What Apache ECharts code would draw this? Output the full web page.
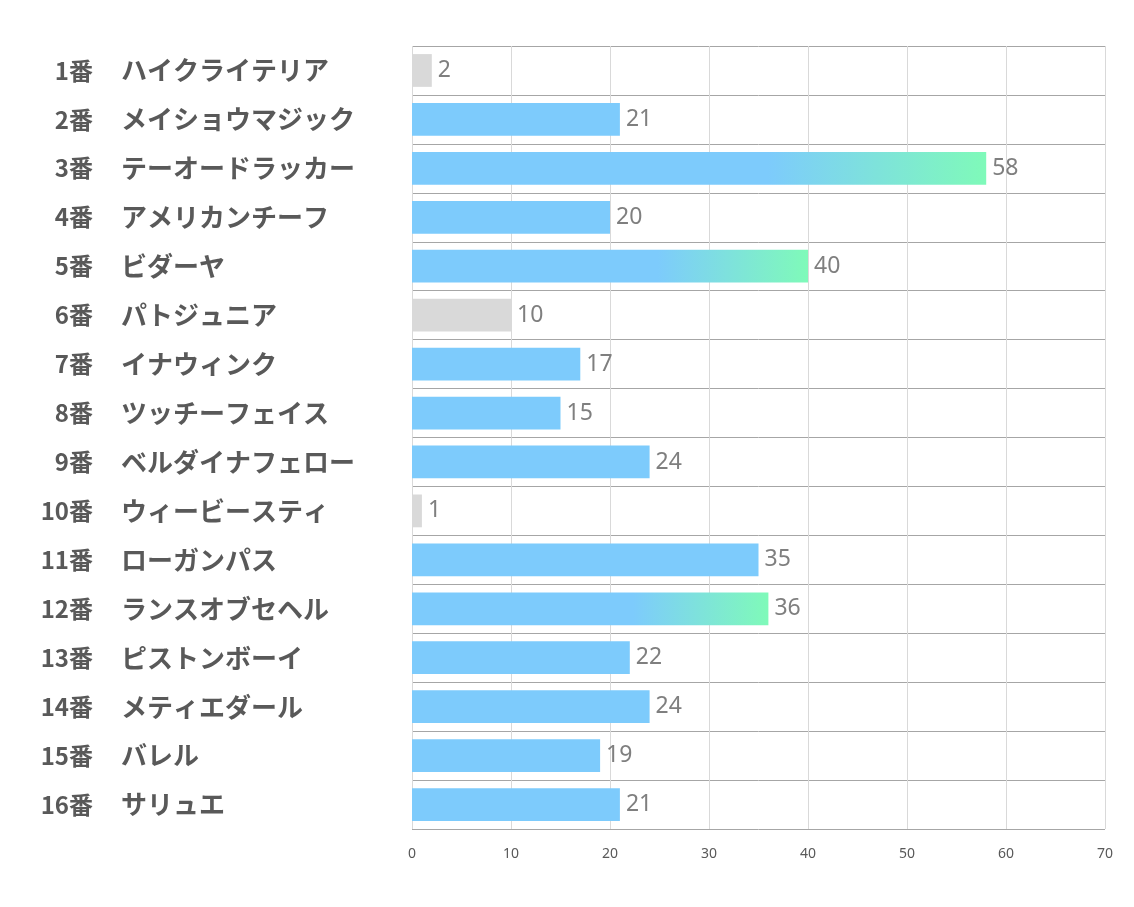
<!DOCTYPE html>
<html><head><meta charset="utf-8">
<script src="https://cdn.jsdelivr.net/npm/echarts@6/dist/echarts.min.js"></script>
<style>html,body{margin:0;padding:0;background:#fff}#c{width:1134px;height:907px}</style>
</head><body><div id="c"></div>
<script>
const numbers = ['1番','2番','3番','4番','5番','6番','7番','8番','9番','10番','11番','12番','13番','14番','15番','16番'];
const horses = ['ハイクライテリア','メイショウマジック','テーオードラッカー','アメリカンチーフ','ビダーヤ','パトジュニア','イナウィンク','ツッチーフェイス','ベルダイナフェロー','ウィービースティ','ローガンパス','ランスオブセヘル','ピストンボーイ','メティエダール','バレル','サリュエ'];
const values = [2,21,58,20,40,10,17,15,24,1,35,36,22,24,19,21];
const xTicks = [0,10,20,30,40,50,60,70];

const BLUE = '#7dcbfc', GRAY = '#d9d9d9', GREEN = '#7ffab9';
const top3 = values.slice().sort((a,b)=>b-a).slice(0,3);
const barData = values.map(v=>{
  let color = BLUE;
  if (v <= 10) color = GRAY;
  else if (top3.includes(v)) color = new echarts.graphic.LinearGradient(0,0,1,0,[
    {offset:0,color:BLUE},{offset:0.62,color:BLUE},{offset:1,color:GREEN}]);
  return {value:v,itemStyle:{color}};
});

const labelFont = {fontWeight:'bold',color:'#595959',fontFamily:'Noto Sans CJK JP'};
const chart = echarts.init(document.getElementById('c'));
chart.setOption({
  animation:false,
  backgroundColor:'#fff',
  grid:{left:412,right:29,top:46,bottom:78,containLabel:false},
  xAxis:{type:'value',min:0,max:70,interval:10,
    axisLine:{show:false},axisTick:{show:false},
    axisLabel:{color:'#595959',fontSize:14,margin:18,fontFamily:'Noto Sans',
      formatter:v=>xTicks.includes(v)?String(v):''},
    splitLine:{show:true,lineStyle:{color:'#d9d9d9',width:1}}},
  yAxis:[
    {type:'category',inverse:true,data:horses,
      axisLine:{show:false},axisTick:{show:false},
      splitLine:{show:true,lineStyle:{color:'#a6a6a6',width:1}},
      axisLabel:Object.assign({align:'left',margin:291,fontSize:26},labelFont)},
    {type:'category',inverse:true,data:numbers,position:'left',
      axisLine:{show:false},axisTick:{show:false},splitLine:{show:false},
      axisLabel:Object.assign({align:'right',margin:319,fontSize:24},labelFont)}
  ],
  series:[{type:'bar',data:barData,barWidth:'67%',yAxisIndex:0,
    label:{show:true,position:'right',distance:6,color:'#7f7f7f',fontSize:23,fontFamily:'Noto Sans'}}]
});
</script></body></html>
